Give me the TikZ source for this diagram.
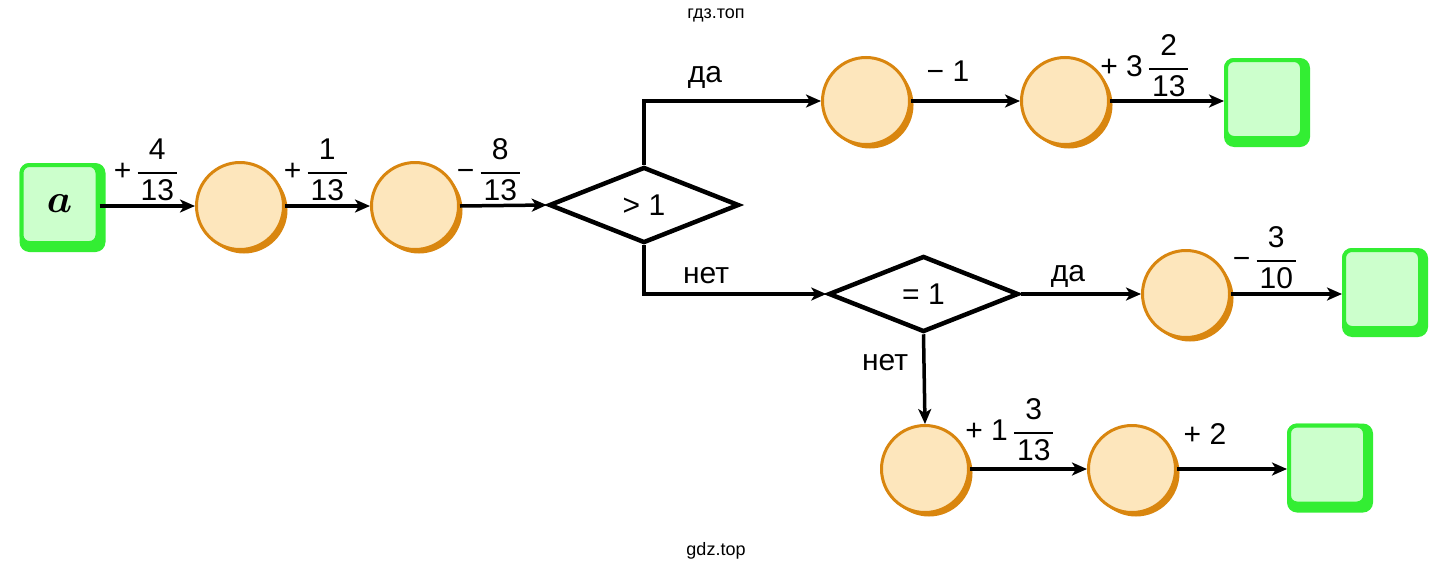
\RequirePackage{fix-cm}
\documentclass[tikz,border=0pt]{standalone}
\usepackage{amsmath}
\usepackage{fontspec}
\setmainfont{Liberation Sans}
\usetikzlibrary{shapes.geometric,arrows.meta}

\definecolor{boxfill}{HTML}{CCFFCC}
\definecolor{boxline}{HTML}{33EE33}
\definecolor{circfill}{HTML}{FDE6BC}
\definecolor{circline}{HTML}{D9860F}

\newcommand\fr[2]{\genfrac{}{}{2pt}{0}{\mbox{\hspace{3pt}#1\hspace{3pt}}}{\mbox{\hspace{3pt}#2\hspace{3pt}}}}

\begin{document}
\begin{tikzpicture}[x=1pt,y=-1pt,
  lbl/.style={font=\fontsize{30}{34}\selectfont, inner sep=0pt},
  numbox/.style={draw=boxline, fill=boxfill, line width=4pt, rounded corners=8pt,
    minimum width=76pt, minimum height=78pt, inner sep=0pt},
  boxshade/.style={fill=boxline, rounded corners=10pt,
    minimum width=86pt, minimum height=89pt, inner sep=0pt, xshift=3pt, yshift=-3.5pt},
  opnode/.style={circle, draw=circline, fill=circfill, line width=3pt, minimum size=87pt,
    inner sep=0pt},
  opshade/.style={circle, fill=circline, minimum size=87pt, inner sep=0pt,
    xshift=4pt, yshift=-4pt},
  cond/.style={diamond, aspect=2.5, draw, line width=4.5pt, minimum width=190pt,
    minimum height=76pt, inner sep=0pt, font=\fontsize{30}{34}\selectfont},
  link/.style={line width=3.5pt, -{Stealth[length=15pt,width=13pt,inset=4pt]}},
  wm/.style={font=\fontsize{18}{20}\selectfont, inner sep=0pt}
]
\useasboundingbox[fill=white] (0,0) rectangle (1434,570);

% watermarks
\node[wm] (w1) at (716,15) {гдз.топ};
\node[wm] (w2) at (716,551) {gdz.top};

% shadows
\node[boxshade] (as) at (59.5,204) {};
\node[opshade] (c1s) at (240,206) {};
\node[opshade] (c2s) at (415,206) {};
\node[opshade] (ct1s) at (866,101) {};
\node[opshade] (ct2s) at (1065,101) {};
\node[boxshade] (bts) at (1264,99) {};
\node[opshade] (cms) at (1186,294) {};
\node[boxshade] (bms) at (1382,289) {};
\node[opshade] (cb1s) at (925,469) {};
\node[opshade] (cb2s) at (1132,469) {};
\node[boxshade] (bbs) at (1327,464.5) {};

% main row
\node[numbox, font=\fontsize{40}{40}\selectfont] (a) at (59.5,204) {$\boldsymbol{a}$};
\node[opnode] (c1) at (240,206) {};
\node[opnode] (c2) at (415,206) {};
\node[cond] (d1) at (644,205) {> 1};

% top row
\node[opnode] (ct1) at (866,101) {};
\node[opnode] (ct2) at (1065,101) {};
\node[numbox] (bt) at (1264,99) {};

% middle row
\node[cond] (d2) at (923.5,294) {= 1};
\node[opnode] (cm) at (1186,294) {};
\node[numbox] (bm) at (1382,289) {};

% bottom row
\node[opnode] (cb1) at (925,469) {};
\node[opnode] (cb2) at (1132,469) {};
\node[numbox] (bb) at (1327,464.5) {};

% connectors
\draw[link] (a.east |- c1.west) -- (c1.west);
\draw[link] (c1.east) -- (c2.west);
\draw[link] (c2.east) -- (d1.west);
\draw[link] (d1.north) |- (ct1.west);
\draw[link] (ct1.east) -- (ct2.west);
\draw[link] (ct2.east) -- (ct2.east -| bt.west);
\draw[link] (d1.south) |- (d2.west);
\draw[link] (d2.east) -- (cm.west);
\draw[link] (cm.east) -- (cm.east -| bm.west);
\draw[link] (d2.south) -- (cb1.north);
\draw[link] (cb1.east) -- (cb2.west);
\draw[link] (cb2.east) -- (cb2.east -| bb.west);

% labels
\node[lbl] (l1) at (146,170) {$\mbox{+}\,\fr{4}{13}$};
\node[lbl] (l2) at (316,170) {$\mbox{+}\,\fr{1}{13}$};
\node[lbl] (l3) at (489,170) {$\mbox{−}\,\fr{8}{13}$};
\node[lbl] (l4) at (948,71) {− 1};
\node[lbl] (l5) at (1145,66) {$\mbox{+ 3}\,\fr{2}{13}$};
\node[lbl] (l6) at (1265,258) {$\mbox{−}\,\fr{3}{10}$};
\node[lbl] (l7) at (1010,430) {$\mbox{+ 1}\,\fr{3}{13}$};
\node[lbl] (l8) at (1205,434) {+ 2};
\node[lbl] (y1) at (705,77) {да};
\node[lbl] (n1) at (706,276) {нет};
\node[lbl] (y2) at (1068,276) {да};
\node[lbl] (n2) at (885,363) {нет};
\end{tikzpicture}
\end{document}
